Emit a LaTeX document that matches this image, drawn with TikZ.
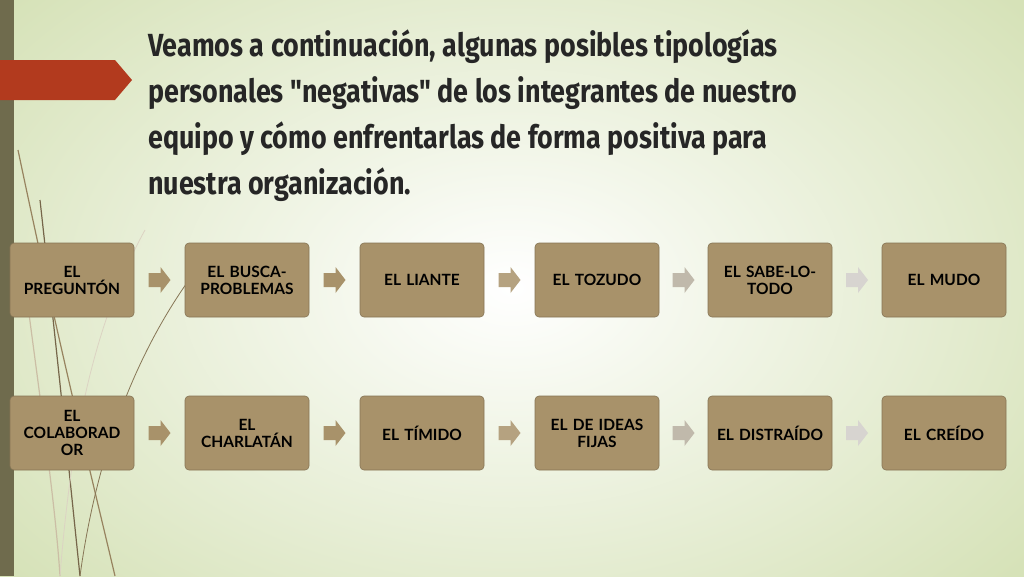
\documentclass[tikz,border=0pt]{standalone}
\usepackage{fontspec}
\setmainfont{Lato}
\newfontfamily\titlefont[FakeStretch=0.84]{Fira Sans}
\definecolor{boxc}{HTML}{A8926A}
\definecolor{bgA}{HTML}{D6E2B8}
\definecolor{tabc}{HTML}{B23A1E}
\tikzset{
 bx/.style={draw=boxc!80!black,line width=0.6pt,fill=boxc,rounded corners=4pt,minimum width=124pt,minimum height=74pt,align=center,text width=120pt,font=\fontsize{15.5}{17}\selectfont\bfseries,inner sep=1pt},
 arr/.pic={\fill[pic actions] (-11,-7) -- (1,-7) -- (1,-13) -- (11,0) -- (1,13) -- (1,7) -- (-11,7) -- cycle;}
}
\begin{document}
\begin{tikzpicture}[x=1pt,y=-1pt]
\useasboundingbox (0,0) rectangle (1024,576);
\shade[inner color=white,outer color=bgA] (-150,-150) rectangle (1174,726);
% left band
\fill[black!50!olive!60!gray] (0,0) rectangle (14,576);
% grass lines
\begin{scope}[line width=1.2pt]
\draw[boxc!90!black] (18,150) .. controls (60,350) and (90,470) .. (115,576);
\draw[boxc!70!black] (40,200) .. controls (60,380) and (70,480) .. (80,576);
\draw[boxc!60] (22,260) .. controls (40,400) and (55,500) .. (60,576);
\draw[boxc!80!black,line width=0.8pt] (200,265) .. controls (150,330) and (100,430) .. (80,576);
\draw[boxc!40,line width=0.8pt] (145,230) .. controls (90,330) and (70,450) .. (60,576);
\end{scope}
% red tab
\fill[tabc] (0,60) -- (115,60) -- (132,80) -- (115,100) -- (0,100) -- cycle;
\node[anchor=north west,align=left,font=\titlefont\fontsize{32}{46}\selectfont\bfseries,text=black!85,inner sep=0pt] (title) at (148,30)
 {Veamos a continuación, algunas posibles tipologías\\personales "negativas" de los integrantes de nuestro\\equipo y cómo enfrentarlas de forma positiva para\\nuestra organización.};
\node[bx] (a1) at (72,280) {EL\\PREGUNTÓN};
\node[bx] (a2) at (247,280) {EL BUSCA-\\PROBLEMAS};
\node[bx] (a3) at (422,280) {EL LIANTE};
\node[bx] (a4) at (597,280) {EL TOZUDO};
\node[bx] (a5) at (770,280) {EL SABE-LO-\\TODO};
\node[bx] (a6) at (944,280) {EL MUDO};
\node[bx] (b1) at (72,433) {EL\\COLABORAD\\OR};
\node[bx] (b2) at (247,433) {EL\\CHARLATÁN};
\node[bx] (b3) at (422,433) {EL TÍMIDO};
\node[bx] (b4) at (597,433) {EL DE IDEAS\\FIJAS};
\node[bx] (b5) at (770,433) {EL DISTRAÍDO};
\node[bx] (b6) at (944,433) {EL CREÍDO};
\foreach \r in {a,b}{
 \path (\r1) -- pic[fill=boxc]{arr} (\r2);
 \path (\r2) -- pic[fill=boxc]{arr} (\r3);
 \path (\r3) -- pic[fill=boxc!85]{arr} (\r4);
 \path (\r4) -- pic[fill=boxc!55!gray!60]{arr} (\r5);
 \path (\r5) -- pic[fill=boxc!30!gray!35]{arr} (\r6);
}
\end{tikzpicture}
\end{document}
